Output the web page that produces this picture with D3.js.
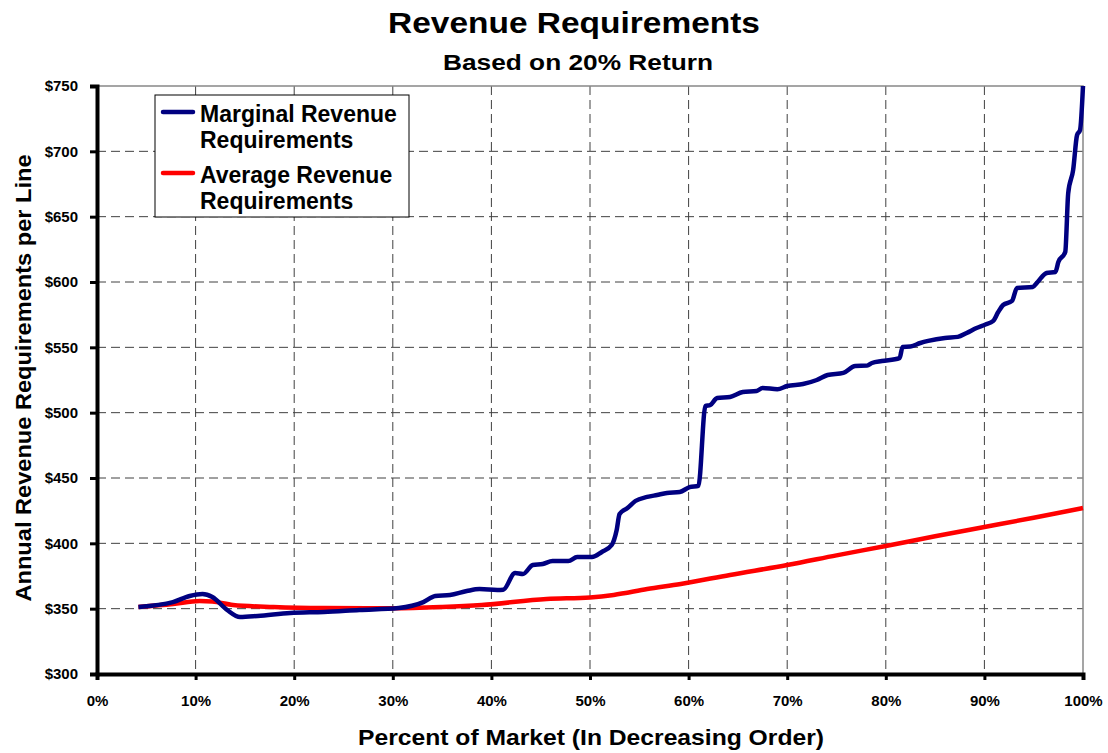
<!DOCTYPE html>
<html>
<head>
<meta charset="utf-8">
<script src="https://cdn.jsdelivr.net/npm/d3@7"></script>
<style>
body { margin: 0; background: #fff; }
text { font-family: "Liberation Sans", Arial, sans-serif; font-weight: bold; }
</style>
</head>
<body>
<div class="chart"></div>
<script>
// marginal series: percent of market and $ per line
const marginalPct = [4.2, 7.7, 9.4, 10.7, 11.7, 13.2, 14.5, 16.3, 19.6, 23, 26.6, 30.6, 33.1, 34.3, 35.8, 37.5, 38.8, 40.6, 41.2, 42.4, 43.2, 44.2, 45.2, 46.2, 47.8, 48.7, 50.2, 51.2, 52.2, 52.7, 53, 53.8, 54.6, 55.8, 56.8, 57.8, 59.1, 60.1, 61, 61.7, 62.2, 62.9, 64.2, 65.5, 66.9, 67.5, 69, 70, 71.6, 73, 74.1, 75.7, 76.9, 78.1, 78.6, 79.6, 81.4, 81.7, 82.5, 83.5, 84.3, 86, 87.3, 88.2, 89.2, 90.1, 90.9, 91.4, 91.9, 92.8, 93.3, 94.9, 95.4, 96.3, 97.2, 97.5, 98.2, 98.5, 99, 99.4, 99.7, 100];
const marginalVal = [351.3, 355, 359.7, 361.2, 358.9, 349, 343.6, 344.4, 346.7, 347.5, 349, 350.5, 355, 359.7, 360.5, 363.5, 365, 364.3, 364.5, 377.3, 376.5, 383.4, 384.2, 386.5, 386.5, 389.5, 389.5, 393.4, 398.7, 410, 422.4, 427, 432.4, 435.5, 437, 438.5, 439.3, 443, 444, 505, 505.9, 511.2, 512, 515.8, 516.6, 518.9, 518, 520.4, 521.9, 525, 528.8, 530.4, 535.7, 536, 538, 539.5, 541.8, 550.3, 550.6, 553.3, 554.9, 557.2, 558, 561, 564.8, 567.5, 570.2, 577, 582.4, 585.5, 595.4, 596.2, 600, 606.9, 607.7, 615.3, 623, 668, 685.7, 712.5, 716.3, 750];

// average series
const averagePct = [4.2, 7.7, 10.4, 11.7, 13.8, 17.9, 23, 30, 35, 39, 45.6, 50, 52.4, 55.8, 59.2, 64.2, 70, 75, 80, 85, 90, 95, 100];
const averageVal = [351.3, 353.6, 355.9, 355.5, 352.8, 351.3, 350.5, 350.3, 351.3, 352.8, 357.4, 358.6, 360.5, 365, 368.9, 375.8, 383.4, 390.8, 398, 405.4, 412.5, 419.6, 427];

const xTicks = [0, 10, 20, 30, 40, 50, 60, 70, 80, 90, 100];
const yTicks = [300, 350, 400, 450, 500, 550, 600, 650, 700, 750];

const legendLabels = [["Marginal Revenue", "Requirements"], ["Average Revenue", "Requirements"]];
const seriesColors = ["#000080", "#ff0000"];

const width = 1108;
const height = 753;
const plotLeft = 97, plotRight = 1083, plotTop = 86, plotBottom = 674;

const svg = d3.select(".chart")
    .append("svg")
    .attr("width", width)
    .attr("height", height);

const x = d3.scaleLinear().domain([0, 100]).range([plotLeft, plotRight]);
const y = d3.scaleLinear().domain([300, 750]).range([plotBottom, plotTop]);

// grid
svg.selectAll(".vgrid")
    .data(xTicks.slice(1, -1))
    .enter()
    .append("line")
    .attr("x1", d => x(d)).attr("x2", d => x(d))
    .attr("y1", plotTop).attr("y2", plotBottom)
    .attr("stroke", "#404040")
    .attr("stroke-width", 1)
    .attr("stroke-dasharray", "9,5");

svg.selectAll(".hgrid")
    .data(yTicks.slice(1, -1))
    .enter()
    .append("line")
    .attr("x1", plotLeft).attr("x2", plotRight)
    .attr("y1", d => y(d)).attr("y2", d => y(d))
    .attr("stroke", "#404040")
    .attr("stroke-width", 1)
    .attr("stroke-dasharray", "9,5");

// top and right border
svg.append("path")
    .attr("d", `M${plotLeft},${plotTop}H${plotRight}V${plotBottom}`)
    .attr("fill", "none")
    .attr("stroke", "#888")
    .attr("stroke-width", 1.5);

// axes
const xAxis = d3.axisBottom(x)
    .tickValues(xTicks)
    .tickFormat(d => d + "%")
    .tickSize(6)
    .tickPadding(15);

const yAxis = d3.axisLeft(y)
    .tickValues(yTicks)
    .tickFormat(d => "$" + d)
    .tickSize(7)
    .tickPadding(12);

const gx = svg.append("g")
    .attr("transform", `translate(0,${plotBottom})`)
    .call(xAxis);
gx.select(".domain").attr("stroke", "#000").attr("stroke-width", 4);
gx.selectAll(".tick line").attr("stroke", "#000").attr("stroke-width", 3);
gx.selectAll(".tick text").attr("font-size", 15).attr("fill", "#000")
    .style("font-family", "'Liberation Sans', Arial, sans-serif").style("font-weight", "bold");

const gy = svg.append("g")
    .attr("transform", `translate(${plotLeft},0)`)
    .call(yAxis);
gy.select(".domain").attr("stroke", "#000").attr("stroke-width", 4);
gy.selectAll(".tick line").attr("stroke", "#000").attr("stroke-width", 3);
gy.selectAll(".tick text").attr("font-size", 15).attr("fill", "#000")
    .style("font-family", "'Liberation Sans', Arial, sans-serif").style("font-weight", "bold");

// lines
const line = d3.line()
    .x(d => x(d[0]))
    .y(d => y(d[1]))
    .curve(d3.curveMonotoneX);

const averageData = averagePct.map((p, i) => [p, averageVal[i]]);
const marginalData = marginalPct.map((p, i) => [p, marginalVal[i]]);

svg.append("path")
    .datum(averageData)
    .attr("d", line)
    .attr("fill", "none")
    .attr("stroke", seriesColors[1])
    .attr("stroke-width", 4.5);

svg.append("path")
    .datum(marginalData)
    .attr("d", line)
    .attr("fill", "none")
    .attr("stroke", seriesColors[0])
    .attr("stroke-width", 4.5)
    .attr("stroke-linejoin", "round");

// legend
const legend = svg.append("g");
legend.append("rect")
    .attr("x", 155).attr("y", 95)
    .attr("width", 254).attr("height", 122)
    .attr("fill", "#fff")
    .attr("stroke", "#000")
    .attr("stroke-width", 1);

legendLabels.forEach((lab, i) => {
    const ly = 112 + i * 61;
    legend.append("line")
        .attr("x1", 163).attr("x2", 193)
        .attr("y1", ly).attr("y2", ly)
        .attr("stroke", seriesColors[i])
        .attr("stroke-width", 4.5)
        .attr("stroke-linecap", "round");
    legend.append("text")
        .attr("x", 200).attr("y", ly + 10)
        .attr("font-size", 23)
        .text(lab[0]);
    legend.append("text")
        .attr("x", 200).attr("y", ly + 36)
        .attr("font-size", 23)
        .text(lab[1]);
});

// titles
svg.append("text")
    .attr("x", 574).attr("y", 33)
    .attr("text-anchor", "middle")
    .attr("font-size", 30)
    .attr("textLength", 372)
    .attr("lengthAdjust", "spacingAndGlyphs")
    .text("Revenue Requirements");

svg.append("text")
    .attr("x", 578).attr("y", 70)
    .attr("text-anchor", "middle")
    .attr("font-size", 22)
    .attr("textLength", 270)
    .attr("lengthAdjust", "spacingAndGlyphs")
    .text("Based on 20% Return");

svg.append("text")
    .attr("x", 591).attr("y", 745)
    .attr("text-anchor", "middle")
    .attr("font-size", 22)
    .attr("textLength", 466)
    .attr("lengthAdjust", "spacingAndGlyphs")
    .text("Percent of Market (In Decreasing Order)");

svg.append("text")
    .attr("transform", "translate(31,378) rotate(-90)")
    .attr("text-anchor", "middle")
    .attr("font-size", 22)
    .attr("textLength", 447)
    .attr("lengthAdjust", "spacingAndGlyphs")
    .text("Annual Revenue Requirements per Line");
</script>
</body>
</html>
